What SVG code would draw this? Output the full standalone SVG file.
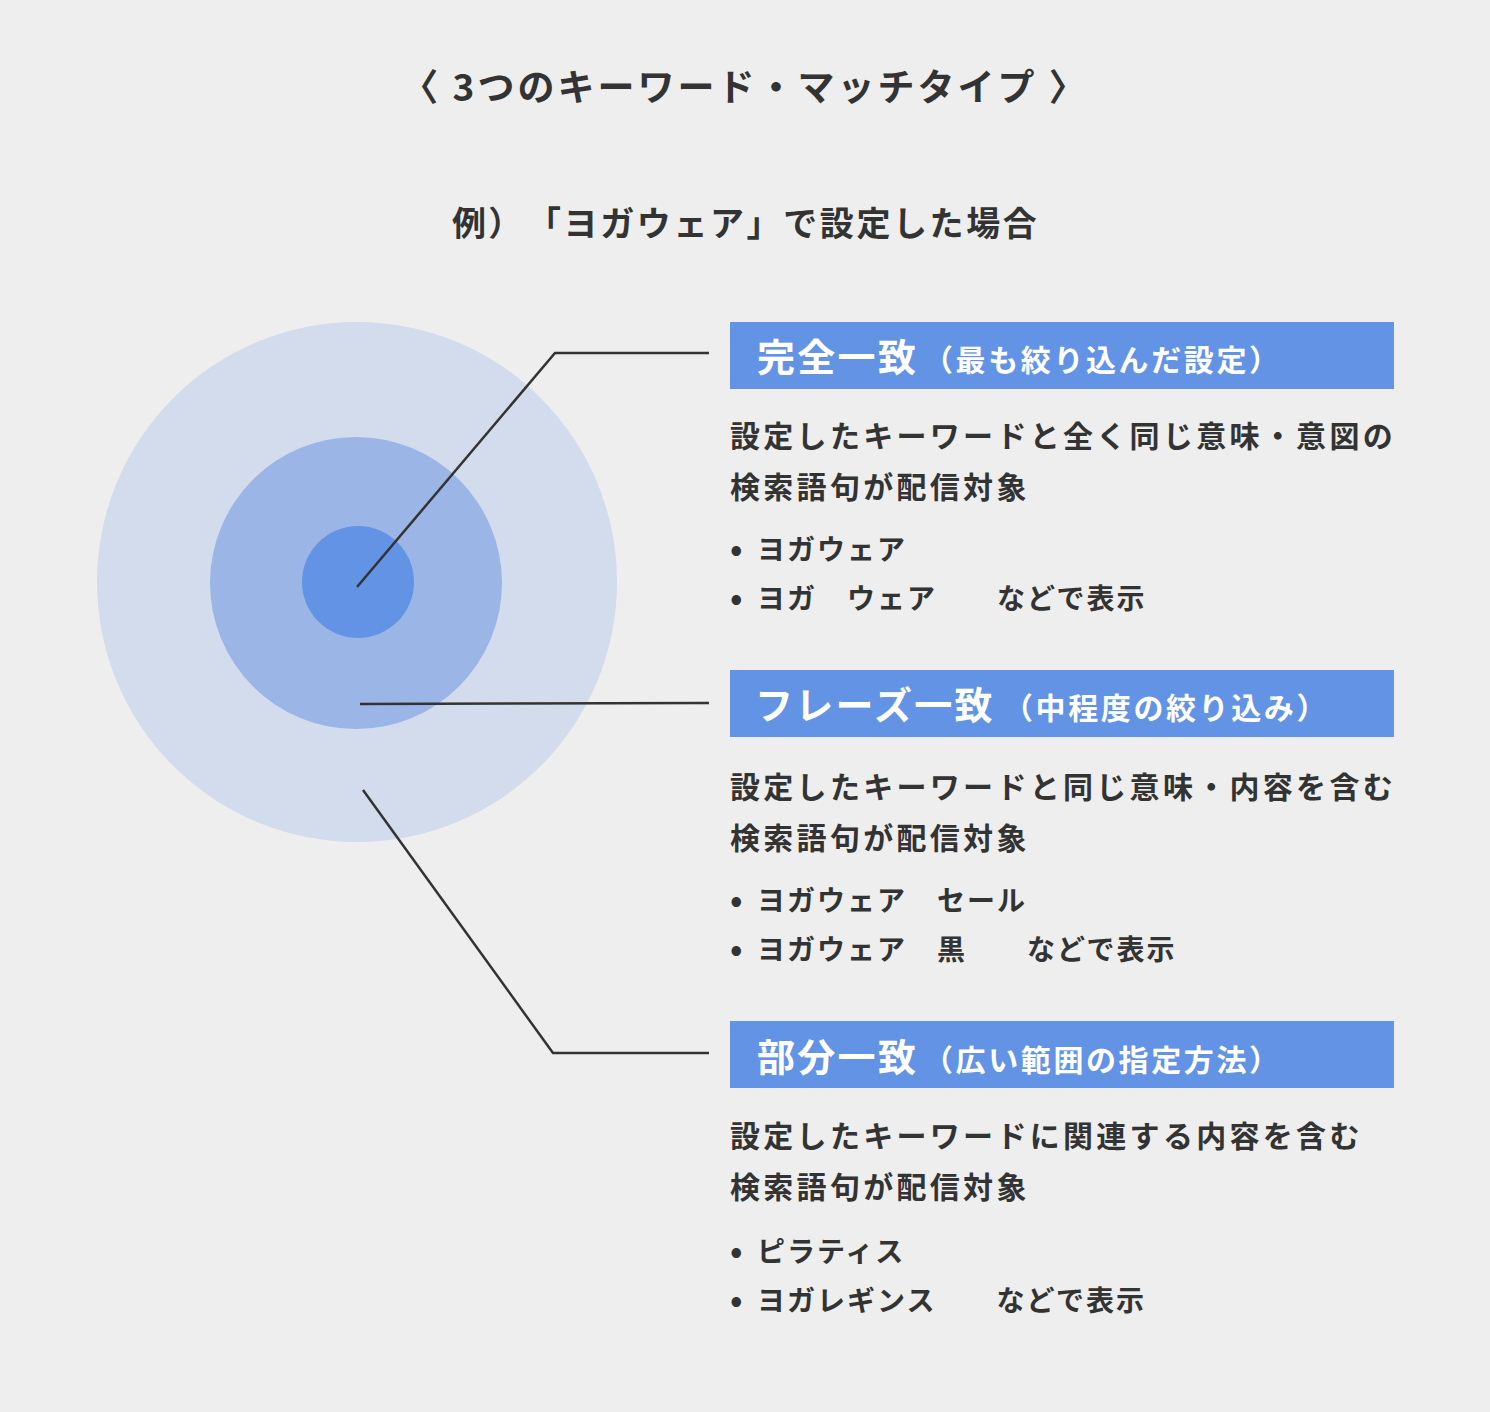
<svg xmlns="http://www.w3.org/2000/svg" width="1490" height="1412" viewBox="0 0 1490 1412">
<style>
text{font-family:"Noto Sans CJK JP","Noto Sans",sans-serif;font-weight:700;fill:#333333}
.hd{fill:#ffffff}
.big{font-size:38px;letter-spacing:2.3px}
.sub{font-size:30px;letter-spacing:2.6px}
.body{font-size:30px;letter-spacing:3.3px}
.item{font-size:28px;letter-spacing:2px}
.dot{font-size:33px}
.box{fill:#6393e4}
.conn{fill:none;stroke:#333333;stroke-width:2.5}
</style>
<rect width="1490" height="1412" fill="#eeeeee"/>
<g id="title">
<text x="745" y="101" font-size="37" text-anchor="middle" letter-spacing="3">〈 3つのキーワード・マッチタイプ 〉</text>
<text x="452" y="236" font-size="34" letter-spacing="2.3">例）</text>
<text x="527" y="236" font-size="34" letter-spacing="2.6">「ヨガウェア」で設定した場合</text>
</g>
<g id="circles">
<circle cx="357" cy="582" r="260" fill="#d3dcec"/>
<circle cx="356" cy="583" r="146" fill="#9bb6e6"/>
<circle cx="358" cy="582" r="56" fill="#6393e4"/>
</g>
<g id="connectors">
<polyline class="conn" points="357,587 555,353 709,353"/>
<polyline class="conn" points="360,704 709,703"/>
<polyline class="conn" points="363,790 553,1053 709,1053"/>
</g>
<g id="exact">
<rect class="box" x="730" y="322" width="664" height="67"/>
<text class="hd" x="757" y="371"><tspan class="big">完全一致</tspan><tspan class="sub" x="923">（最も絞り込んだ設定）</tspan></text>
<text class="body" x="730" y="447">設定したキーワードと全く同じ意味・意図の</text>
<text class="body" x="730" y="498">検索語句が配信対象</text>
<text class="item" y="560"><tspan class="dot" x="730" dy="1">•</tspan><tspan x="757" dy="-1">ヨガウェア</tspan></text>
<text class="item" y="609" xml:space="preserve"><tspan class="dot" x="730" dy="1">•</tspan><tspan x="757" dy="-1">ヨガ　ウェア　　などで表示</tspan></text>
</g>
<g id="phrase">
<rect class="box" x="730" y="670" width="664" height="67"/>
<text class="hd" x="755" y="719"><tspan class="big">フレーズ一致</tspan><tspan class="sub" x="1003">（中程度の絞り込み）</tspan></text>
<text class="body" x="730" y="798">設定したキーワードと同じ意味・内容を含む</text>
<text class="body" x="730" y="849">検索語句が配信対象</text>
<text class="item" y="911" xml:space="preserve"><tspan class="dot" x="730" dy="1">•</tspan><tspan x="757" dy="-1">ヨガウェア　セール</tspan></text>
<text class="item" y="960" xml:space="preserve"><tspan class="dot" x="730" dy="1">•</tspan><tspan x="757" dy="-1">ヨガウェア　黒　　などで表示</tspan></text>
</g>
<g id="broad">
<rect class="box" x="730" y="1021" width="664" height="67"/>
<text class="hd" x="757" y="1071"><tspan class="big">部分一致</tspan><tspan class="sub" x="923">（広い範囲の指定方法）</tspan></text>
<text class="body" x="730" y="1147">設定したキーワードに関連する内容を含む</text>
<text class="body" x="730" y="1198">検索語句が配信対象</text>
<text class="item" y="1262"><tspan class="dot" x="730" dy="1">•</tspan><tspan x="757" dy="-1">ピラティス</tspan></text>
<text class="item" y="1311" xml:space="preserve"><tspan class="dot" x="730" dy="1">•</tspan><tspan x="757" dy="-1">ヨガレギンス　　などで表示</tspan></text>
</g>
</svg>
